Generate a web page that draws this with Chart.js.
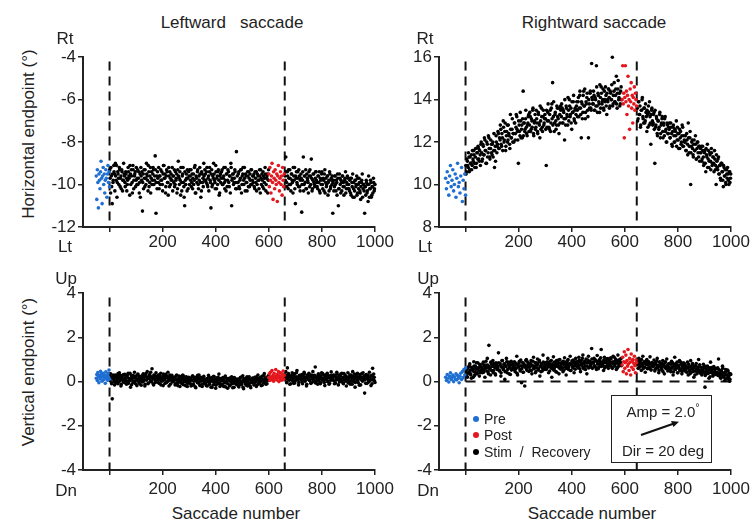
<!DOCTYPE html>
<html><head><meta charset="utf-8">
<script src="https://cdn.jsdelivr.net/npm/chart.js@4.4.1/dist/chart.umd.min.js"></script>
<style>
body{margin:0;width:756px;height:523px;background:#fff;position:relative;overflow:hidden;font-family:"Liberation Sans",Arial,sans-serif;color:#222}
canvas{position:absolute}
.t{position:absolute;white-space:pre;font-size:17px;line-height:1;transform:translate(-50%,-50%)}
.rot{transform:translate(-50%,-50%) rotate(-90deg)}
.lg{position:absolute;font-size:14px;line-height:1;white-space:pre}
.dot{position:absolute;width:6px;height:6px;border-radius:50%}
.box{position:absolute;border:1.5px solid #222;background:#fff}
</style></head><body>

<canvas id="cA" width="356" height="212" style="left:43px;top:45px"></canvas>
<canvas id="cB" width="356" height="212" style="left:399px;top:45px"></canvas>
<canvas id="cC" width="356" height="219" style="left:43px;top:281px"></canvas>
<canvas id="cD" width="356" height="219" style="left:399px;top:281px"></canvas>

<div class="t" style="left:232px;top:22px">Leftward   saccade</div>
<div class="t" style="left:594px;top:22px">Rightward saccade</div>
<div class="t" style="left:65px;top:38px">Rt</div>
<div class="t" style="left:65px;top:246px">Lt</div>
<div class="t" style="left:425px;top:38px">Rt</div>
<div class="t" style="left:425px;top:246px">Lt</div>
<div class="t" style="left:66px;top:278px">Up</div>
<div class="t" style="left:66px;top:490px">Dn</div>
<div class="t" style="left:428px;top:278px">Up</div>
<div class="t" style="left:428px;top:490px">Dn</div>
<div class="t rot" style="left:28px;top:134px">Horizontal endpoint (°)</div>
<div class="t rot" style="left:28px;top:372px">Vertical endpoint (°)</div>
<div class="t" style="left:236px;top:513px">Saccade number</div>
<div class="t" style="left:592px;top:513px">Saccade number</div>

<div class="dot" style="left:473px;top:416px;background:#1f6fd2"></div>
<div class="lg" style="left:484px;top:412px">Pre</div>
<div class="dot" style="left:473px;top:432px;background:#e3171e"></div>
<div class="lg" style="left:484px;top:428px">Post</div>
<div class="dot" style="left:473px;top:449px;background:#000"></div>
<div class="lg" style="left:484px;top:445px">Stim  /  Recovery</div>

<div class="box" style="left:611px;top:395px;width:99px;height:66px"></div>
<div class="t" style="left:663px;top:411px;font-size:15px">Amp = 2.0<sup style="font-size:10px;vertical-align:6px">°</sup></div>
<div class="t" style="left:663px;top:450px;font-size:15px">Dir = 20 deg</div>
<svg style="position:absolute;left:0;top:0" width="756" height="523">
  <line x1="641" y1="435" x2="674" y2="423.5" stroke="#111" stroke-width="2"/>
  <polygon points="679,421.8 671,421 673.5,427" fill="#111"/>
</svg>

<script>
// ---------- data: saccade numbers and endpoint values (degrees) ----------
const saccadeTicks = [0, 200, 400, 600, 800, 1000];
const leftPreStart = -50, rightPreStart = -75;
const leftPreStep = 2, rightPreStep = 3;
const stimStart = 1, stimStep = 3;           // stim samples: saccade 1,4,7,... and 2,5,8,...
const postStep = 2, recStep = 3;
const leftPostStart = 600, leftRecStart = 661, leftPostLine = 660;
const rightPostStart = 590, rightRecStart = 647, rightPostLine = 645;

// Leftward saccade, horizontal endpoint
const leftHorizPre = [-9.6,-10.7,-9.3,-9.9,-11.1,-9.5,-9.8,-10.2,-9.4,-8.9,-9.7,-10.9,-9.6,-9.2,-10.0,-9.5,-10.4,-9.8,-9.3,-9.7,-10.6,-9.5,-9.1,-9.9,-9.4,-10.1];
const leftHorizStim = [
-9.3,-10.4,-9.6,-10.9,-9.9,-9.1,-9.5,-9.0,-9.8,-10.6,-9.4,-9.7,-9.2,-10.1,-9.6,-9.3,-10.3,-9.8,-9.5,-9.9,
-9.4,-9.7,-10.0,-9.2,-9.6,-10.5,-9.5,-9.3,-9.9,-9.1,-10.2,-9.6,-9.4,-9.8,-10.0,-9.3,-9.7,-10.4,-9.5,-9.2,
-9.8,-11.25,-9.5,-9.3,-10.1,-9.7,-9.0,-9.6,-10.3,-9.4,-9.9,-9.2,-9.7,-10.0,-9.5,-9.3,-9.8,-8.65,-11.35,-9.6,
-9.4,-9.9,-10.2,-9.6,-9.3,-9.8,-10.0,-9.5,-9.1,-9.7,-10.4,-9.6,-9.4,-9.9,-9.2,-10.1,-9.7,-9.5,-9.8,-10.3,
-9.6,-9.3,-10.0,-9.8,-9.5,-10.2,-8.9,-9.7,-9.4,-10.5,-9.9,-9.6,-9.2,-10.1,-11.0,-9.8,-9.5,-10.3,-9.7,-9.4,
-10.0,-9.6,-9.3,-9.9,-10.2,-9.5,-9.8,-9.1,-10.4,-9.7,-9.4,-10.0,-9.6,-9.2,-9.9,-10.3,-9.5,-9.7,-9.0,-9.8,
-9.5,-9.9,-9.2,-10.1,-9.6,-9.4,-9.8,-11.1,-9.3,-10.0,-9.7,-9.5,-9.9,-9.1,-10.2,-9.6,-9.4,-9.8,-10.4,-9.5,
-9.7,-9.3,-10.0,-9.6,-9.9,-9.2,-10.3,-9.5,-9.8,-9.4,-10.1,-9.6,-9.0,-11.0,-9.7,-9.5,-9.9,-9.3,-10.2,-8.45,
-9.6,-9.9,-9.4,-10.2,-9.7,-9.3,-10.0,-9.5,-9.8,-9.2,-10.3,-9.6,-9.9,-9.4,-10.1,-9.7,-9.5,-10.0,-9.3,-9.8,
-9.9,-9.5,-10.2,-9.7,-9.4,-10.0,-9.6,-9.8,-9.3,-10.4,-9.7,-9.5,-10.1,-9.6,-9.9,-9.2,-10.3,-9.7,-9.5,-9.8];
const leftHorizStim2 = [
-9.7,-9.2,-10.1,-9.5,-9.8,-9.4,-10.3,-9.6,-9.1,-9.9,-9.5,-10.0,-9.3,-9.7,-10.2,-9.4,-9.8,-9.0,-9.6,-10.1,
-9.5,-10.3,-9.8,-9.4,-9.7,-9.1,-10.0,-9.6,-10.4,-9.3,-9.8,-9.5,-10.1,-9.2,-9.7,-10.0,-9.4,-9.9,-10.6,-9.6,
-9.4,-9.9,-10.2,-9.7,-9.3,-10.0,-9.5,-9.8,-9.1,-10.1,-9.6,-10.4,-9.4,-9.8,-9.2,-10.0,-9.6,-9.3,-9.9,-10.2,
-9.7,-9.2,-9.6,-10.0,-9.8,-9.4,-10.3,-9.1,-9.7,-9.5,-10.1,-9.3,-9.9,-10.5,-9.6,-9.4,-10.0,-9.8,-9.2,-9.6,
-9.9,-10.1,-9.4,-9.7,-10.4,-9.3,-9.6,-10.0,-9.8,-9.2,-10.3,-9.5,-9.9,-10.6,-9.4,-10.0,-9.7,-9.3,-10.2,-9.6,
-9.3,-9.8,-10.1,-9.5,-9.7,-10.0,-9.2,-10.4,-9.6,-9.9,-9.3,-10.2,-9.8,-9.5,-10.6,-9.4,-9.9,-10.1,-9.6,-9.3,
-9.8,-9.4,-10.0,-9.7,-10.3,-9.2,-9.9,-9.5,-10.1,-9.6,-9.0,-9.8,-10.2,-9.4,-9.7,-10.0,-9.3,-10.5,-9.6,-9.9,
-9.4,-10.0,-9.7,-9.2,-10.2,-9.8,-9.5,-10.1,-9.3,-9.9,-9.6,-10.4,-9.2,-9.8,-9.5,-10.0,-9.7,-9.4,-9.9,-10.2,
-9.9,-9.5,-10.1,-9.8,-9.3,-10.4,-9.6,-9.2,-10.0,-9.7,-9.5,-9.9,-10.3,-9.6,-9.4,-10.1,-9.8,-9.3,-10.0,-9.6,
-9.6,-10.1,-9.4,-9.9,-10.3,-9.5,-9.8,-10.2,-9.6,-9.3,-10.0,-9.8,-9.4,-10.2,-9.7,-9.5,-10.0,-9.6,-10.4,-9.3];
const leftHorizPost = [-9.5,-10.1,-9.2,-9.8,-10.4,-9.6,-9.0,-9.9,-10.7,-9.4,-9.7,-10.2,-9.3,-9.8,-10.0,-9.5,-10.8,-9.6,-9.1,-9.9,-10.3,-9.7,-9.4,-10.0,-9.6,-10.5,-9.2,-9.8,-10.1,-9.5];
const leftHorizRecovery = [
-9.6,-8.7,-9.9,-9.4,-10.2,-9.7,-9.3,-10.0,-9.5,-9.8,-10.4,-9.6,-9.2,-10.9,-9.7,-9.9,-9.4,-10.1,-9.6,-10.3,
-9.5,-11.3,-9.8,-8.7,-10.0,-9.6,-9.3,-10.2,-9.7,-9.9,-9.4,-10.1,-9.6,-8.8,-10.3,-9.8,-9.5,-10.0,-9.7,-9.4,
-9.9,-10.2,-9.6,-9.4,-10.4,-9.8,-9.5,-10.0,-9.7,-10.3,-9.3,-9.9,-10.1,-9.6,-10.5,-9.8,-9.4,-10.2,-9.7,-10.0,
-11.35,-9.8,-10.1,-9.6,-10.3,-9.9,-9.5,-11.0,-10.2,-9.7,-10.4,-9.9,-9.6,-10.1,-10.5,-9.8,-9.4,-10.2,-10.0,-9.7,
-10.0,-10.3,-9.7,-10.5,-9.9,-9.5,-10.2,-10.6,-9.8,-10.1,-9.6,-10.4,-10.0,-9.7,-10.3,-10.7,-9.9,-9.5,-10.2,-10.0,
-11.35,-10.1,-9.8,-10.4,-10.0,-9.6,-10.6,-10.2,-9.9,-10.5,-10.1,-9.7,-10.3,-10.0];
const leftHorizRecovery2 = [
-9.8,-9.4,-10.1,-9.6,-9.3,-10.0,-9.7,-10.3,-9.5,-9.9,-9.2,-9.8,-10.2,-9.6,-9.4,-10.0,-9.7,-9.3,-10.1,-9.8,
-9.7,-10.0,-9.4,-10.3,-9.6,-9.9,-10.2,-9.5,-9.8,-10.4,-9.6,-9.3,-10.0,-9.7,-10.2,-9.5,-9.9,-10.1,-9.4,-9.8,
-10.1,-9.6,-9.9,-10.3,-9.7,-10.0,-9.4,-10.2,-9.8,-9.5,-10.4,-9.7,-10.0,-9.6,-9.9,-10.3,-9.5,-10.1,-9.8,-9.6,
-9.9,-10.3,-9.6,-10.0,-9.8,-10.5,-9.7,-10.2,-9.5,-10.0,-9.8,-10.3,-9.6,-9.9,-10.1,-9.7,-10.4,-9.9,-9.6,-10.2,
-10.2,-9.8,-10.4,-9.7,-10.1,-10.6,-9.9,-10.3,-9.8,-10.0,-10.5,-9.7,-10.2,-9.9,-10.4,-10.1,-9.8,-10.6,-10.0,-10.3,
-10.1,-10.5,-9.9,-10.3,-10.8,-10.0,-10.2,-9.8,-10.6,-10.1,-10.4,-9.9,-10.2];

// Rightward saccade, horizontal endpoint
const rightHorizPre = [10.3,9.8,10.6,10.1,9.5,10.4,10.9,9.9,10.2,10.7,9.7,10.0,10.5,9.4,10.3,11.0,9.9,10.1,9.6,10.4,10.8,9.2,10.2,9.8,10.5,9.5];
const rightHorizStim = [
10.9,10.6,11.1,10.8,11.3,10.7,11.0,11.4,10.9,11.2,11.6,11.0,11.3,10.8,11.5,11.2,11.7,11.1,11.4,11.9,
11.5,11.2,11.8,11.4,12.1,11.6,11.0,11.9,11.5,12.2,11.3,11.7,11.9,11.4,12.0,11.6,10.8,11.8,12.3,11.5,
11.9,12.4,11.7,12.1,12.6,11.8,12.2,13.0,12.0,12.5,11.6,12.3,12.8,12.1,12.4,11.9,13.3,12.2,12.6,12.0,
12.4,12.9,12.1,12.7,13.2,12.5,11.0,12.8,12.3,13.0,12.6,12.2,14.4,12.9,12.5,13.1,12.7,12.3,12.9,13.3,
12.8,13.2,12.6,13.0,13.5,12.4,12.9,13.3,12.7,13.1,12.5,13.4,12.9,12.2,13.0,13.6,12.7,13.2,12.8,13.1,
13.1,10.9,12.7,13.4,13.0,12.6,13.5,12.9,13.8,14.8,13.2,12.5,13.3,13.0,12.8,13.6,13.1,12.4,13.3,13.7,
13.2,13.6,12.9,13.4,12.1,13.1,13.7,13.3,12.8,13.5,14.0,13.2,13.6,12.6,13.4,13.9,13.1,13.5,12.9,13.7,
13.5,13.9,13.2,14.2,13.6,12.2,13.8,13.4,14.4,13.7,13.1,13.9,14.1,13.5,12.2,13.8,14.3,13.6,15.7,14.0,
13.8,14.2,13.5,14.0,15.6,13.7,14.3,13.9,13.4,14.1,14.6,13.8,14.0,13.6,14.4,13.9,14.2,13.3,14.0,14.5,
14.1,13.7,14.3,14.0,16.0,13.8,14.4,13.9,14.2,15.1,13.6,14.5,14.0,14.3,13.8,14.6];
const rightHorizStim2 = [
10.5,11.2,10.9,11.5,10.6,11.3,11.0,10.7,11.6,11.1,11.4,10.8,11.7,11.0,11.5,11.8,11.2,11.6,10.9,12.0,
11.1,11.9,11.4,12.2,11.6,11.0,12.0,11.3,12.3,11.7,11.2,12.1,11.5,11.9,11.3,12.4,11.6,11.1,12.0,11.8,
12.5,11.7,12.2,12.8,11.9,12.4,11.6,12.7,12.1,12.9,11.8,12.5,12.0,12.8,12.3,11.7,12.6,12.2,13.1,12.4,
12.0,12.9,12.4,13.3,12.6,12.1,13.0,12.5,13.4,12.2,12.8,13.1,12.3,12.9,12.6,13.5,12.4,12.8,13.2,12.5,
13.4,12.5,13.1,12.7,13.6,12.3,13.0,12.6,13.5,12.9,12.4,13.3,12.8,13.7,12.6,13.2,12.5,13.5,12.9,13.3,
12.6,13.5,13.0,13.8,12.7,13.3,12.5,13.6,13.1,12.8,13.9,12.9,13.4,12.6,13.7,13.2,12.8,13.6,12.9,13.5,
13.8,12.9,13.5,13.1,14.0,12.8,13.6,13.2,14.1,13.0,13.7,13.3,12.9,13.9,13.4,14.2,13.0,13.6,13.3,13.9,
13.2,14.1,13.6,14.4,13.3,13.9,13.1,14.2,13.7,14.5,13.4,13.8,14.3,13.2,14.0,13.6,14.4,13.5,14.1,13.8,
14.4,13.5,14.1,13.7,14.6,13.4,14.2,13.8,14.7,13.6,14.3,13.9,14.5,13.5,14.0,14.6,13.7,14.3,13.9,14.5,
13.6,14.4,14.0,14.7,13.7,14.2,14.8,13.9,14.5,13.8,14.3,14.9,14.1,13.7,14.4,14.0];
const rightHorizPost = [14.0,15.6,13.8,14.3,12.2,14.1,15.6,13.9,14.4,13.3,14.2,15.1,13.7,14.0,12.6,14.5,13.9,14.8,13.6,14.2,12.9,14.1,13.8,14.6,13.5,14.3,14.0,13.7];
const rightHorizRecovery = [
13.6,13.1,13.9,13.3,12.7,13.5,14.0,13.2,12.9,13.6,13.0,13.4,12.5,13.3,13.7,12.8,13.2,11.9,13.5,13.0,
12.9,13.4,11.0,12.7,13.2,12.4,13.0,12.6,13.3,12.2,12.8,13.1,12.5,12.9,12.3,13.2,12.6,12.0,12.8,12.4,
12.6,12.2,12.9,12.4,11.8,12.7,12.3,12.0,12.5,13.0,12.1,12.4,11.7,12.6,12.2,11.9,12.3,12.7,11.8,12.1,
12.0,11.6,12.4,11.9,12.9,11.5,12.2,10.0,11.8,12.1,11.4,11.9,11.6,12.3,11.2,11.7,12.0,11.3,11.8,11.5,
11.5,11.1,11.8,11.3,11.0,11.6,10.6,11.4,11.9,11.2,10.8,11.5,11.1,11.7,10.9,11.3,11.0,11.6,10.7,10.0,
11.1,10.7,11.3,10.5,10.9,10.2,11.0,10.6,9.9,10.8,10.4,10.1,10.7,10.3,10.5,10.0,10.6,10.3];
const rightHorizRecovery2 = [
13.0,13.9,13.3,13.7,12.8,13.5,14.1,13.1,13.6,12.9,13.8,13.2,13.5,12.7,13.4,13.9,12.9,13.3,13.6,12.8,
13.3,12.6,13.5,12.8,13.1,12.3,13.0,12.7,13.4,12.4,12.9,13.2,12.2,12.8,13.1,12.5,12.0,12.9,12.4,12.7,
12.9,12.2,12.7,11.9,12.5,12.8,12.0,12.6,12.3,11.8,12.7,12.1,12.4,11.7,12.5,12.0,12.8,11.8,12.3,12.0,
12.3,11.6,12.1,11.4,12.2,11.8,12.5,11.5,12.0,11.7,11.3,12.1,11.6,11.9,11.2,12.0,11.5,11.8,11.1,11.7,
11.8,11.2,11.6,10.9,11.5,11.0,11.7,11.3,10.8,11.6,11.1,11.4,10.7,11.5,11.0,11.3,10.6,11.2,10.9,11.4,
10.8,11.2,10.5,10.9,10.3,11.0,10.6,10.2,10.9,10.4,10.7,10.0,10.5,10.8,10.2,10.6,10.1,10.5];

// Leftward saccade, vertical endpoint
const leftVertPre = [0.15,0.32,0.05,0.41,0.22,-0.05,0.28,0.12,0.47,0.18,0.35,0.02,0.25,0.38,0.09,0.30,0.20,-0.08,0.44,0.14,0.27,0.06,0.36,0.21,0.52,0.11];
const leftVertStim = [
0.12,0.35,-0.05,-0.78,0.22,0.08,-0.15,0.30,0.02,0.18,-0.10,0.25,0.40,0.05,-0.20,0.15,0.28,-0.02,0.10,0.33,
0.06,-0.12,0.20,0.38,0.00,0.14,-0.25,0.27,0.09,-0.05,0.22,0.42,0.03,0.16,-0.18,0.30,0.11,-0.08,0.24,0.05,
0.18,-0.02,0.35,0.10,-0.20,0.26,0.07,0.45,-0.10,0.15,0.32,0.00,0.22,0.58,0.12,-0.15,0.28,0.05,0.40,0.17,
0.10,0.30,-0.08,0.20,0.38,0.02,0.14,-0.18,0.25,0.08,0.33,-0.05,0.18,0.42,0.04,0.22,-0.12,0.15,0.28,0.00,
0.06,0.20,-0.15,0.12,0.30,-0.05,0.08,0.25,-0.22,0.03,0.17,-0.10,0.28,0.00,0.14,-0.18,0.22,0.05,-0.08,0.19,
-0.02,0.15,-0.20,0.08,0.26,-0.12,0.04,0.20,-0.28,0.10,-0.05,0.18,0.30,-0.15,0.02,0.12,-0.22,0.07,0.24,-0.08,
0.05,-0.18,0.14,0.00,0.28,-0.10,0.08,-0.25,0.18,0.02,-0.14,0.22,0.06,-0.30,0.12,-0.04,0.20,0.34,-0.08,0.10,
-0.12,0.06,0.18,-0.22,0.02,0.25,-0.06,0.12,-0.30,0.08,0.15,-0.16,0.00,0.22,-0.10,0.05,-0.26,0.14,-0.02,0.10,
-0.08,0.12,-0.24,0.04,0.18,-0.14,-0.02,0.26,-0.32,0.08,-0.10,0.15,0.00,-0.20,0.10,0.22,-0.06,-0.28,0.05,0.14,
0.02,-0.15,0.20,0.06,-0.22,0.12,0.30,-0.08,0.16,0.00,-0.18,0.24,0.08,-0.05,0.36,0.10,-0.12,0.18,0.04,0.26];
const leftVertStim2 = [
0.05,0.22,-0.10,0.15,0.30,0.00,0.18,-0.06,0.25,0.10,0.36,-0.02,0.14,0.28,-0.12,0.20,0.06,0.32,-0.04,0.16,
0.24,0.02,0.30,-0.08,0.12,0.38,0.06,-0.14,0.20,0.28,0.00,0.16,-0.10,0.26,0.08,0.34,-0.02,0.18,0.10,-0.16,
0.14,0.30,0.02,0.22,-0.12,0.36,0.08,0.18,-0.06,0.26,0.12,0.42,0.00,0.20,-0.10,0.30,0.16,-0.04,0.24,0.06,
0.20,-0.05,0.28,0.10,-0.15,0.22,0.04,0.34,0.12,-0.08,0.18,0.26,0.00,0.14,-0.20,0.30,0.08,0.20,-0.02,0.16,
0.02,0.18,-0.10,0.26,0.06,-0.18,0.14,0.00,0.22,-0.06,0.10,0.28,-0.14,0.08,0.20,-0.02,0.12,-0.22,0.16,0.04,
0.10,-0.10,0.06,0.22,-0.16,0.02,0.14,-0.24,0.18,0.00,0.28,-0.06,0.10,-0.18,0.20,0.04,-0.12,0.16,-0.02,0.08,
-0.06,0.12,-0.20,0.04,0.20,-0.12,0.00,0.16,-0.26,0.08,0.24,-0.04,0.12,-0.16,0.02,0.18,-0.10,0.06,-0.22,0.14,
0.04,-0.16,0.10,-0.06,0.20,-0.24,0.00,0.14,-0.10,0.06,-0.20,0.16,-0.02,0.10,-0.28,0.02,0.18,-0.08,0.08,-0.14,
0.00,-0.18,0.10,-0.06,0.20,-0.12,0.04,-0.26,0.14,-0.02,0.08,-0.16,0.22,0.00,-0.10,0.12,-0.20,0.06,-0.04,0.16,
0.08,-0.10,0.14,0.00,0.22,-0.14,0.10,0.02,-0.06,0.18,0.06,-0.16,0.12,0.28,-0.02,0.16,0.04,-0.10,0.20,0.10];
const leftVertPost = [0.18,0.35,0.05,0.42,0.22,0.10,0.50,0.15,0.28,0.02,0.38,0.20,0.12,0.55,0.25,0.08,0.32,0.18,0.45,0.00,0.26,0.14,0.40,0.22,0.06,0.34,0.16,0.48,0.10,0.28];
const leftVertRecovery = [
0.20,0.45,-0.05,0.62,0.12,0.30,-0.12,0.25,0.08,0.40,0.15,-0.08,0.35,0.05,0.22,0.50,0.10,-0.15,0.28,0.18,
0.08,0.32,-0.10,0.22,0.42,0.02,0.18,-0.20,0.30,0.12,0.38,0.05,0.25,-0.06,0.15,0.45,0.10,0.28,0.66,0.00,
0.20,-0.12,0.35,0.10,0.25,-0.05,0.40,0.15,0.05,0.30,-0.18,0.22,0.12,0.38,0.02,0.26,-0.08,0.18,0.44,0.08,
0.14,0.30,-0.10,0.24,0.06,0.42,0.16,-0.15,0.28,0.10,0.34,0.00,0.20,-0.06,0.36,0.12,0.25,-0.20,0.18,0.40,
0.05,0.22,-0.12,0.30,0.10,0.45,0.00,0.18,-0.25,0.26,0.08,0.38,-0.05,0.15,0.32,-0.15,0.20,0.06,0.40,0.12,
-0.52,0.16,0.32,-0.08,0.24,0.04,0.42,0.10,-0.18,0.28,0.60,0.06,0.20,-0.04];
const leftVertRecovery2 = [
0.10,0.28,-0.02,0.18,0.36,0.06,0.22,-0.10,0.14,0.30,0.02,0.24,-0.06,0.16,0.40,0.08,0.20,-0.04,0.26,0.12,
0.18,-0.02,0.26,0.10,0.34,0.04,0.20,-0.12,0.14,0.28,0.06,0.22,-0.08,0.30,0.12,0.00,0.24,0.16,-0.06,0.20,
0.12,0.30,0.02,0.20,-0.10,0.26,0.08,0.36,0.14,-0.04,0.22,0.10,0.32,0.00,0.18,-0.12,0.24,0.06,0.28,0.14,
0.22,0.04,0.28,-0.08,0.16,0.34,0.10,0.20,-0.02,0.26,0.12,0.38,0.06,-0.10,0.18,0.30,0.02,0.22,0.14,-0.06,
0.16,0.30,0.00,0.20,-0.12,0.24,0.08,0.34,-0.04,0.14,0.28,0.04,0.18,-0.16,0.22,0.10,0.36,0.02,0.16,0.26,
0.08,-0.08,0.22,0.12,0.30,-0.02,0.18,0.06,0.26,-0.10,0.14,0.34,0.04];

// Rightward saccade, vertical endpoint
const rightVertPre = [0.20,0.05,0.32,0.15,-0.02,0.25,0.40,0.10,0.18,0.30,0.00,0.22,0.12,0.35,0.08,0.28,0.15,-0.05,0.24,0.38,0.10,0.45,0.18,0.55,0.30,0.62];
const rightVertStim = [
0.30,0.55,0.20,0.65,0.42,0.80,0.35,0.15,0.60,0.48,0.90,0.28,0.70,0.52,0.38,0.85,0.60,0.25,0.72,0.50,
0.65,0.40,0.88,0.55,0.20,0.75,0.62,1.05,0.45,1.64,0.58,0.30,0.80,0.68,0.95,0.50,0.72,0.35,0.85,0.60,
0.70,1.30,0.48,0.82,0.25,0.65,0.95,0.55,0.78,0.10,0.68,1.05,0.40,0.88,0.60,0.75,0.32,0.92,0.58,0.80,
0.62,0.90,0.45,0.75,1.15,0.30,0.70,0.85,0.55,0.98,-0.05,0.68,0.42,0.80,-0.20,0.72,1.00,0.50,0.88,0.65,
0.78,0.52,0.95,0.35,0.70,1.10,0.60,0.85,0.45,0.75,1.02,0.58,0.90,0.25,0.68,0.82,0.48,1.20,0.72,0.62,
0.85,0.55,0.75,1.05,0.40,0.70,0.92,0.62,0.20,0.80,1.12,0.58,0.76,0.45,0.95,0.68,0.85,0.35,1.00,0.72,
0.60,0.88,0.45,0.78,1.08,0.66,0.30,0.82,0.95,0.55,0.75,1.15,0.50,0.85,0.68,0.98,0.40,0.80,1.05,0.70,
0.90,0.62,1.10,0.75,0.45,0.95,0.82,1.20,0.58,0.88,0.70,1.02,0.35,0.85,1.15,0.65,0.92,0.78,1.50,0.60,
0.88,1.05,0.70,0.95,0.55,1.18,0.80,0.65,1.00,0.90,1.45,0.75,0.85,0.50,1.10,0.92,0.68,1.02,0.82,0.60,
0.95,0.72,1.08,0.85,0.60,1.15,0.90,0.78,1.02,0.55,0.88,1.20,0.70,0.96,0.82,1.05];
const rightVertStim2 = [
0.45,0.25,0.60,0.38,0.72,0.50,0.30,0.65,0.55,0.20,0.70,0.42,0.58,0.85,0.35,0.62,0.48,0.78,0.40,0.66,
0.55,0.80,0.42,0.70,0.62,0.92,0.48,0.75,0.35,0.68,0.58,0.88,0.50,0.72,0.40,0.82,0.64,0.30,0.76,0.55,
0.62,0.85,0.50,0.74,0.40,0.95,0.66,0.58,0.80,0.45,0.70,0.90,0.55,0.78,0.35,0.68,0.88,0.52,0.75,0.62,
0.70,0.52,0.84,0.60,0.38,0.78,0.66,0.92,0.48,0.72,0.58,0.86,0.42,0.75,0.65,0.95,0.55,0.70,0.80,0.46,
0.66,0.82,0.50,0.74,0.92,0.58,0.70,0.40,0.85,0.62,0.78,0.52,0.96,0.68,0.45,0.80,0.60,0.88,0.55,0.72,
0.74,0.58,0.90,0.66,0.82,0.48,0.76,0.95,0.60,0.70,0.52,0.88,0.68,0.80,0.42,0.75,0.98,0.62,0.84,0.56,
0.80,0.64,0.92,0.52,0.76,0.88,0.60,0.72,1.00,0.66,0.82,0.50,0.78,0.94,0.62,0.70,0.86,0.56,0.90,0.74,
0.82,0.68,0.96,0.58,0.88,0.74,1.05,0.64,0.80,0.92,0.55,0.85,0.70,0.98,0.62,0.90,0.76,0.66,1.02,0.84,
0.86,0.72,1.00,0.64,0.92,0.80,0.58,0.95,0.78,1.08,0.68,0.88,0.74,0.98,0.62,0.85,0.92,0.70,1.04,0.80,
0.90,0.74,1.02,0.66,0.88,0.80,1.10,0.70,0.94,0.84,0.62,0.96,0.78,1.00,0.86,0.72];
const rightVertPost = [0.75,1.10,0.45,0.90,1.35,0.60,0.85,1.20,0.35,0.95,0.70,1.45,0.80,0.50,1.05,0.88,0.30,1.25,0.65,0.92,1.00,0.55,0.82,1.15,0.72,0.40,0.98,0.85];
const rightVertRecovery = [
0.85,0.60,1.05,0.72,0.95,0.50,0.80,1.15,0.65,0.90,0.42,0.78,1.00,0.58,0.88,0.70,1.12,0.55,0.82,0.68,
0.75,0.98,0.48,0.85,0.62,1.05,0.70,0.40,0.90,0.66,0.80,0.52,0.95,0.72,0.35,0.86,0.60,1.02,0.68,0.78,
0.58,0.82,0.45,0.92,0.65,0.30,0.75,1.10,0.55,0.70,0.88,0.40,0.62,0.95,0.50,0.78,0.35,0.68,0.85,0.52,
0.72,0.45,0.60,0.88,0.30,0.65,0.50,0.95,0.42,0.75,0.58,0.20,0.70,0.48,0.82,0.36,0.62,1.00,0.52,0.40,
0.65,0.30,0.55,0.78,0.42,-0.25,0.60,0.35,0.70,0.48,0.15,0.62,0.88,0.40,0.52,0.25,0.68,0.45,0.32,0.58,
0.40,0.62,1.02,0.28,0.50,0.15,0.45,0.70,0.22,0.38,0.05,0.55,0.30,0.12,0.48,0.25,0.02,0.35];
const rightVertRecovery2 = [
0.78,0.92,0.62,0.85,0.70,1.00,0.75,0.58,0.88,0.66,0.82,0.95,0.60,0.76,0.90,0.64,0.80,0.52,0.86,0.72,
0.68,0.84,0.55,0.78,0.92,0.62,0.74,0.50,0.86,0.70,0.60,0.82,0.45,0.76,0.66,0.90,0.58,0.72,0.48,0.80,
0.64,0.50,0.78,0.60,0.85,0.44,0.70,0.56,0.82,0.62,0.40,0.74,0.66,0.52,0.88,0.58,0.46,0.72,0.60,0.80,
0.55,0.70,0.42,0.64,0.78,0.50,0.36,0.68,0.58,0.82,0.46,0.62,0.30,0.72,0.54,0.44,0.66,0.50,0.76,0.38,
0.50,0.35,0.62,0.44,0.70,0.28,0.55,0.46,0.66,0.38,0.58,0.22,0.50,0.64,0.40,0.30,0.56,0.45,0.60,0.34,
0.42,0.28,0.55,0.36,0.18,0.48,0.32,0.60,0.24,0.40,0.15,0.46,0.30,0.52,0.20,0.38,0.10,0.32];

// ---------- drawing ----------
const BLUE = '#1f6fd2', RED = '#e3171e', BLACK = '#000';
const FONT = {family: '"Liberation Sans", Arial, sans-serif', size: 17};
function seg(start, step, ys) { return ys.map((y, i) => ({x: start + i * step, y: y})); }

function panel(id, yMin, yMax, p, zeroLine, xPad) {
  const dashTop = yMax - (yMax - yMin) * 0.025;
  const black = seg(stimStart, stimStep, p.stim)
    .concat(seg(stimStart + 1, stimStep, p.stim2))
    .concat(seg(p.recStart, recStep, p.rec))
    .concat(seg(p.recStart + 1, recStep, p.rec2));
  const dash = {showLine: true, borderColor: '#111', borderWidth: 2, borderDash: [9, 6], pointRadius: 0};
  const ds = [
    {data: seg(p.postStart, postStep, p.post), backgroundColor: RED, order: 0},
    {data: seg(p.preStart, p.preStep, p.pre), backgroundColor: BLUE, order: 0},
    {data: black, backgroundColor: BLACK, order: 1},
    Object.assign({data: [{x: 0, y: dashTop}, {x: 0, y: yMin}], order: 2}, dash),
    Object.assign({data: [{x: p.postLine, y: dashTop}, {x: p.postLine, y: yMin}], order: 2}, dash)
  ];
  if (zeroLine) ds.push(Object.assign({data: [{x: 0, y: 0}, {x: 1000, y: 0}], order: 3}, dash, {borderDash: [10, 7]}));
  ds.forEach(d => { if (!d.showLine) { d.pointRadius = 1.8; d.pointBorderWidth = 0; d.pointHoverRadius = 0; d.clip = 4; } });
  new Chart(document.getElementById(id), {
    type: 'scatter',
    data: {datasets: ds},
    options: {
      responsive: false, animation: false, devicePixelRatio: 1,
      layout: {padding: {top: 12, right: 24, left: 0, bottom: 0}},
      plugins: {legend: {display: false}, tooltip: {enabled: false}},
      scales: {
        x: {
          type: 'linear', min: -100, max: 1000,
          afterBuildTicks: ax => { ax.ticks = saccadeTicks.map(v => ({value: v})); },
          afterFit: ax => { ax.height = 30; },
          ticks: {color: '#222', font: FONT, padding: xPad, maxRotation: 0, autoSkip: false,
                  callback: v => (v > 0 ? String(v) : '')},
          grid: {display: true, drawOnChartArea: false, drawTicks: true, tickLength: 5, color: '#222', lineWidth: 1.5},
          border: {display: true, color: '#222', width: 2}
        },
        y: {
          min: yMin, max: yMax,
          afterFit: ax => { ax.width = 40; },
          ticks: {color: '#222', font: FONT, stepSize: 2, padding: 2},
          grid: {display: true, drawOnChartArea: false, drawTicks: true, tickLength: 5, color: '#222', lineWidth: 1.5},
          border: {display: true, color: '#222', width: 2}
        }
      }
    }
  });
}

panel('cA', -12, -4, {pre: leftHorizPre, preStart: leftPreStart, preStep: leftPreStep,
  stim: leftHorizStim, stim2: leftHorizStim2, post: leftHorizPost, postStart: leftPostStart,
  rec: leftHorizRecovery, rec2: leftHorizRecovery2, recStart: leftRecStart, postLine: leftPostLine}, false, 0);
panel('cB', 8, 16, {pre: rightHorizPre, preStart: rightPreStart, preStep: rightPreStep,
  stim: rightHorizStim, stim2: rightHorizStim2, post: rightHorizPost, postStart: rightPostStart,
  rec: rightHorizRecovery, rec2: rightHorizRecovery2, recStart: rightRecStart, postLine: rightPostLine}, false, 0);
panel('cC', -4, 4, {pre: leftVertPre, preStart: leftPreStart, preStep: leftPreStep,
  stim: leftVertStim, stim2: leftVertStim2, post: leftVertPost, postStart: leftPostStart,
  rec: leftVertRecovery, rec2: leftVertRecovery2, recStart: leftRecStart, postLine: leftPostLine}, false, 4);
panel('cD', -4, 4, {pre: rightVertPre, preStart: rightPreStart, preStep: rightPreStep,
  stim: rightVertStim, stim2: rightVertStim2, post: rightVertPost, postStart: rightPostStart,
  rec: rightVertRecovery, rec2: rightVertRecovery2, recStart: rightRecStart, postLine: rightPostLine}, true, 4);
</script>
</body></html>
